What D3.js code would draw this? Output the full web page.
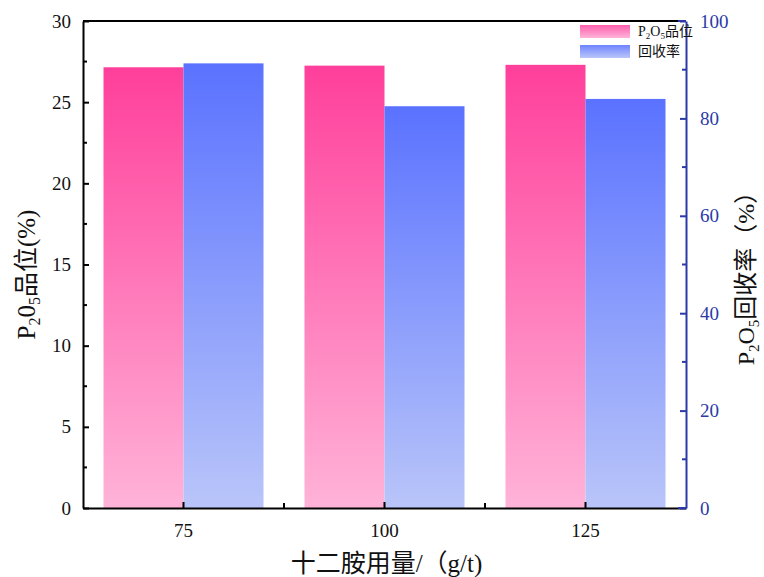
<!DOCTYPE html>
<html>
<head>
<meta charset="utf-8">
<script src="https://cdn.jsdelivr.net/npm/d3@7"></script>
<style>
  body { margin: 0; background: #fff; }
  svg text { font-family: "Liberation Serif", "Noto Sans CJK SC", serif; }
</style>
</head>
<body>
<svg id="chart" width="764" height="577"></svg>
<script>
// Dosage of dodecylamine (g/t)
const categories = ["75", "100", "125"];
// P2O5 grade (%), left axis
const gradeValues = [27.15, 27.25, 27.3];
// P2O5 recovery (%), right axis
const recoveryValues = [91.3, 82.5, 84.0];
const leftTicks = [0, 5, 10, 15, 20, 25, 30];
const rightTicks = [0, 20, 40, 60, 80, 100];

const svg = d3.select("#chart");
const margin = { left: 83, right: 78, top: 21, bottom: 69 };
const W = 764, H = 577;
const x0 = margin.left, x1 = W - margin.right;
const y0 = H - margin.bottom, y1 = margin.top;

const x = d3.scaleBand().domain(categories).range([x0, x1]).paddingInner(0).paddingOuter(0);
const yL = d3.scaleLinear().domain([0, 30]).range([y0, y1]);
const yR = d3.scaleLinear().domain([0, 100]).range([y0, y1]);

const blueAxis = "#2b3aa8";

// Vertical gradients for the two series
const defs = svg.append("defs");
function grad(id, top, bottom) {
  const g = defs.append("linearGradient").attr("id", id)
    .attr("x1", 0).attr("y1", 0).attr("x2", 0).attr("y2", 1);
  g.append("stop").attr("offset", "0%").attr("stop-color", top);
  g.append("stop").attr("offset", "100%").attr("stop-color", bottom);
}
grad("gPink", "#ff3f9b", "#ffb3d8");
grad("gBlue", "#5a72ff", "#b9c5f9");
grad("gPinkL", "#ff5fae", "#ffb3d8");
grad("gBlueL", "#6f84ff", "#b9c5f9");

const barW = 80;
const groupOffset = (x.bandwidth() - 2 * barW) / 2;

// Grade bars
svg.append("g").selectAll("rect").data(categories).join("rect")
  .attr("x", d => x(d) + groupOffset)
  .attr("y", (d, i) => yL(gradeValues[i]))
  .attr("width", barW)
  .attr("height", (d, i) => y0 - yL(gradeValues[i]))
  .attr("fill", "url(#gPink)");

// Recovery bars
svg.append("g").selectAll("rect").data(categories).join("rect")
  .attr("x", d => x(d) + groupOffset + barW)
  .attr("y", (d, i) => yR(recoveryValues[i]))
  .attr("width", barW)
  .attr("height", (d, i) => y0 - yR(recoveryValues[i]))
  .attr("fill", "url(#gBlue)");

// Frame: top edge in black
svg.append("line").attr("x1", x0).attr("x2", x1).attr("y1", y1).attr("y2", y1)
  .attr("stroke", "#000").attr("stroke-width", 2);

// Left axis with inward ticks
const leftAxis = svg.append("g").attr("transform", `translate(${x0},0)`)
  .call(d3.axisLeft(yL).tickValues(leftTicks).tickSize(-6).tickPadding(12).tickSizeOuter(0));
leftAxis.select(".domain").attr("stroke", "#000").attr("stroke-width", 2);
leftAxis.selectAll(".tick line").attr("stroke-width", 2);
leftAxis.selectAll("text").attr("font-size", 19).attr("fill", "#111");
// minor ticks on the left
svg.append("g").selectAll("line").data(d3.range(2.5, 30, 5)).join("line")
  .attr("x1", x0).attr("x2", x0 + 4)
  .attr("y1", d => yL(d)).attr("y2", d => yL(d))
  .attr("stroke", "#000").attr("stroke-width", 2);

// Bottom axis: category ticks and boundary ticks pointing inward
const bottomAxis = svg.append("g").attr("transform", `translate(0,${y0})`)
  .call(d3.axisBottom(x).tickSize(-6).tickPadding(16).tickSizeOuter(0));
bottomAxis.select(".domain").attr("stroke", "#000").attr("stroke-width", 2);
bottomAxis.selectAll(".tick line").attr("stroke-width", 2);
bottomAxis.selectAll("text").attr("font-size", 19).attr("fill", "#111");
svg.append("g").selectAll("line").data(categories.slice(1)).join("line")
  .attr("x1", d => x(d)).attr("x2", d => x(d))
  .attr("y1", y0).attr("y2", y0 - 5)
  .attr("stroke", "#000").attr("stroke-width", 2);

// Right axis in blue
const rightAxis = svg.append("g").attr("transform", `translate(${x1},0)`)
  .call(d3.axisRight(yR).tickValues(rightTicks).tickSize(-6).tickPadding(14).tickSizeOuter(0));
rightAxis.select(".domain").attr("stroke", blueAxis).attr("stroke-width", 2);
rightAxis.selectAll(".tick line").attr("stroke", blueAxis).attr("stroke-width", 2);
rightAxis.selectAll("text").attr("font-size", 19).attr("fill", blueAxis);
svg.append("g").selectAll("line").data(d3.range(10, 100, 20)).join("line")
  .attr("x1", x1).attr("x2", x1 - 4)
  .attr("y1", d => yR(d)).attr("y2", d => yR(d))
  .attr("stroke", blueAxis).attr("stroke-width", 2);
svg.append("line").attr("x1", x1 - 8).attr("x2", x1).attr("y1", y0).attr("y2", y0)
  .attr("stroke", blueAxis).attr("stroke-width", 2);
svg.append("line").attr("x1", x1 - 8).attr("x2", x1).attr("y1", y1).attr("y2", y1)
  .attr("stroke", blueAxis).attr("stroke-width", 2);

// Axis titles
const leftTitle = svg.append("text")
  .attr("transform", `translate(35,${(y0 + y1) / 2 + 10}) rotate(-90)`)
  .attr("text-anchor", "middle").attr("font-size", 25).attr("fill", "#111");
leftTitle.append("tspan").text("P");
leftTitle.append("tspan").attr("font-size", 16).attr("dy", 5).text("2");
leftTitle.append("tspan").attr("dy", -5).text("0");
leftTitle.append("tspan").attr("font-size", 16).attr("dy", 5).text("5");
leftTitle.append("tspan").attr("dy", -5).text("品位(%)");

const rightTitle = svg.append("text")
  .attr("transform", `translate(754,${(y0 + y1) / 2 + 8}) rotate(-90)`)
  .attr("text-anchor", "middle").attr("font-size", 24).attr("fill", "#111");
rightTitle.append("tspan").text("P");
rightTitle.append("tspan").attr("font-size", 15).attr("dy", 5).text("2");
rightTitle.append("tspan").attr("dy", -5).text("O");
rightTitle.append("tspan").attr("font-size", 15).attr("dy", 5).text("5");
rightTitle.append("tspan").attr("dy", -5).text("回收率（%）");

svg.append("text").attr("x", (x0 + x1) / 2 + 2).attr("y", 572)
  .attr("text-anchor", "middle").attr("font-size", 25).attr("fill", "#111")
  .text("十二胺用量/（g/t)");

// Legend
const legend = svg.append("g").attr("transform", "translate(580,25)");
const legendItems = [
  { fill: "url(#gPinkL)", parts: [["P", 0], ["2", 1], ["O", 0], ["5", 1], ["品位", 0]] },
  { fill: "url(#gBlueL)", parts: [["回收率", 0]] }
];
legendItems.forEach((it, i) => {
  const g = legend.append("g").attr("transform", `translate(0,${i * 20})`);
  g.append("rect").attr("width", 50).attr("height", 13).attr("fill", it.fill);
  const t = g.append("text").attr("x", 58).attr("y", 11).attr("font-size", 14).attr("fill", "#111");
  let sub = 0;
  it.parts.forEach(([s, isSub]) => {
    const dy = isSub && !sub ? 3 : (!isSub && sub ? -3 : 0);
    t.append("tspan").attr("dy", dy).attr("font-size", isSub ? 9 : 14).text(s);
    sub = isSub;
  });
});
</script>
</body>
</html>
